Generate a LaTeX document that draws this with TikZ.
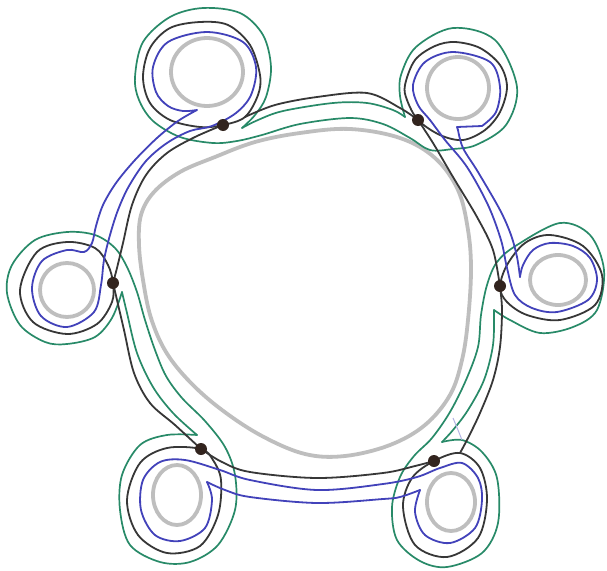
\documentclass[tikz,border=0pt]{standalone}
\definecolor{greyc}{RGB}{190,190,190}
\definecolor{blkc}{RGB}{55,55,55}
\definecolor{bluec}{RGB}{66,66,186}
\definecolor{grnc}{RGB}{40,138,104}
\definecolor{dotc}{RGB}{50,36,30}
\begin{document}
\begin{tikzpicture}[x=1pt,y=-1pt,
  greyln/.style={draw=greyc, line width=3.8pt, line cap=round, line join=round},
  blkln/.style={draw=blkc, line width=1.8pt, line cap=round, line join=round},
  bluln/.style={draw=bluec, line width=1.8pt, line cap=round, line join=round},
  grnln/.style={draw=grnc, line width=1.7pt, line cap=round, line join=round},
  dotst/.style={circle, fill=dotc, draw=none, minimum size=12pt, inner sep=0pt}]
\useasboundingbox (0,0) rectangle (607,570);
\fill[white] (0,0) rectangle (607,570);

% ---------- grey holes ----------
\draw[greyln] plot[smooth cycle, tension=0.6] coordinates {(300,133) (350,129) (400,138) (435,158) (458,190) (468,230) (471,270) (468,320) (462,360) (450,395) (425,425) (390,445) (345,456) (305,454) (262,436) (222,410) (190,382) (166,352) (151,318) (143,280) (139,245) (141,215) (154,192) (180,172) (215,157) (255,142)};
\draw[greyln] (207,72) ellipse [x radius=36pt, y radius=34pt];
\draw[greyln] (458,88) ellipse [x radius=31pt, y radius=31pt];
\draw[greyln] (558,280) ellipse [x radius=28pt, y radius=25pt];
\draw[greyln] (451,502) ellipse [x radius=24pt, y radius=29pt];
\draw[greyln] (177,495) ellipse [x radius=24pt, y radius=30pt];
\draw[greyln] (67,290) ellipse [x radius=27pt, y radius=27pt];

% ---------- green bands ----------
% TL -- TR
\draw[grnln] plot[smooth, tension=0.55] coordinates {(242,128) (258,120) (283,111) (333,103) (367,103) (393,110) (405,117)};
\draw[grnln] plot[smooth, tension=0.55] coordinates {(405,117) (400,96) (401,75) (416,47) (453,28) (495,40) (517,87) (506,125) (476,145) (453,149) (430,150) (410,138) (383,124) (350,118) (300,124) (262,135) (237,141) (213,143) (180,137) (153,121) (139,100) (135,77) (143,42) (170,17) (203,8) (240,13) (263,35) (271,67) (266,97) (255,115) (242,128)};
% R -- BR
\draw[grnln] plot[smooth, tension=0.55] coordinates {(494,310) (493,345) (484,380) (468,410) (453,430) (442,442)};
\draw[grnln] plot[smooth, tension=0.55] coordinates {(442,442) (462,440) (482,452) (497,478) (498,523) (482,553) (447,567) (420,561) (397,540) (392,507) (400,477) (414,456) (432,438) (450,412) (466,380) (478,347) (481,315) (487,285) (497,262) (517,245) (560,223) (590,235) (604,270) (597,310) (573,327) (540,333) (510,320) (494,310)};
% L -- BL
\draw[grnln] plot[smooth, tension=0.55] coordinates {(122,292) (127,313) (137,353) (153,387) (173,413) (197,435)};
\draw[grnln] plot[smooth, tension=0.55] coordinates {(197,435) (167,435) (140,445) (122,475) (120,510) (130,545) (160,562) (190,562) (218,545) (235,510) (235,475) (225,447) (205,421) (182,398) (166,376) (155,350) (145,320) (137,292) (127,267) (115,248) (95,235) (67,232) (35,240) (12,265) (7,293) (20,325) (45,342) (67,344) (95,337) (112,318) (122,292)};

% ---------- black loops ----------
\draw[blkln] plot[smooth cycle, tension=0.55] coordinates {(223,125) (245,117) (258,95) (260,75) (250,45) (228,25) (200,22) (170,28) (150,48) (143,77) (150,103) (170,120) (200,127)};
\draw[blkln] plot[smooth cycle, tension=0.55] coordinates {(418,120) (407,100) (405,85) (415,60) (435,46) (455,42) (480,48) (500,65) (507,87) (500,112) (485,130) (463,140) (440,135)};
\draw[blkln] plot[smooth cycle, tension=0.55] coordinates {(500,287) (507,265) (525,243) (550,235) (583,246) (602,275) (595,305) (560,320) (527,315) (507,302)};
\draw[blkln] plot[smooth cycle, tension=0.55] coordinates {(434,461) (460,453) (480,468) (487,500) (478,538) (447,557) (415,545) (403,507) (412,478)};
\draw[blkln] plot[smooth cycle, tension=0.55] coordinates {(201,449) (167,448) (140,463) (127,500) (138,535) (167,553) (200,546) (218,515) (221,480) (213,460)};
\draw[blkln] plot[smooth cycle, tension=0.55] coordinates {(113,283) (108,265) (95,248) (67,242) (37,252) (20,290) (33,322) (67,334) (97,324) (112,302)};

% ---------- black ring ----------
\draw[blkln] plot[smooth, tension=0.55] coordinates {(418,120) (400,108) (367,93) (317,97) (275,105) (245,117)};
\draw[blkln] plot[smooth, tension=0.55] coordinates {(418,120) (433,143) (453,177) (477,217) (493,250) (500,287)};
\draw[blkln] plot[smooth, tension=0.55] coordinates {(500,287) (502,310) (500,347) (493,380) (480,413) (468,438) (460,453)};
\draw[blkln] plot[smooth, tension=0.55] coordinates {(434,461) (415,466) (383,473) (317,478) (250,472) (222,462) (201,449)};
\draw[blkln] plot[smooth, tension=0.55] coordinates {(201,449) (175,425) (150,403) (134,373) (124,330) (117,300) (113,283)};
\draw[blkln] plot[smooth, tension=0.55] coordinates {(113,283) (117,268) (123,243) (132,205) (146,175) (167,153) (195,137) (223,125)};

% ---------- blue bands ----------
% TL -- L
\draw[bluln] plot[smooth, tension=0.55] coordinates {(197,110) (183,111) (168,106) (156,92) (153,67) (168,42) (207,32) (243,42) (256,67) (251,95) (236,113) (212,126) (190,131) (167,143) (146,161) (129,186) (118,210) (110,235) (104,260) (101,285) (94,312) (67,327) (41,316) (32,288) (42,261) (67,250) (84,252) (92,243) (96,226) (103,205) (116,183) (135,160) (157,138) (178,121) (197,110)};
% TR -- R
\draw[bluln] plot[smooth, tension=0.55] coordinates {(482,126) (496,112) (500,87) (490,62) (453,52) (425,62) (413,85) (418,105) (430,120) (445,140) (467,167) (488,205) (501,240) (507,268) (515,295) (532,308) (557,312) (588,300) (597,280) (590,258) (573,246) (550,243) (533,250) (523,265) (520,277)};
\draw[bluln] plot[smooth, tension=0.55] coordinates {(520,277) (517,257) (511,235) (500,210) (478,172) (463,148) (458,130)};
\draw[bluln] (458,130) -- (457,127) -- (482,126);
% BL -- BR
\draw[bluln] plot[smooth, tension=0.55] coordinates {(207,482) (212,500) (205,528) (180,541) (155,535) (141,510) (143,480) (160,462) (185,460) (220,470) (250,480) (317,490) (383,484) (417,477) (440,468) (462,463) (478,478) (482,500) (475,528) (450,543) (425,535) (415,512) (420,490)};
\draw[bluln] plot[smooth, tension=0.55] coordinates {(420,490) (400,497) (383,499) (317,503) (250,497) (225,490) (207,482)};
\draw[draw=bluec!40, line width=1pt] (453,418) -- (458,430) -- (462,440);

% ---------- dots ----------
\node[dotst] (dTL) at (223,125) {};
\node[dotst] (dTR) at (418,120) {};
\node[dotst] (dR) at (500,286) {};
\node[dotst] (dBR) at (434,461) {};
\node[dotst] (dBL) at (201,449) {};
\node[dotst] (dL) at (113,283) {};
\end{tikzpicture}
\end{document}
